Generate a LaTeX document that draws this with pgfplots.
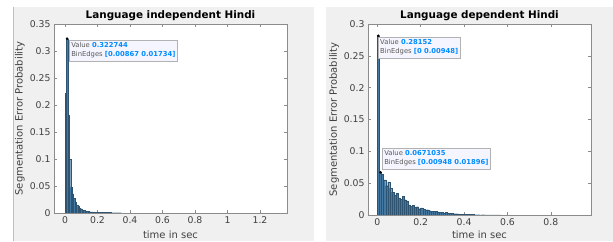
\documentclass[border=0pt]{standalone}
\usepackage{fontspec}
\setmainfont{DejaVu Sans}
\usepackage{pgfplots}
\pgfplotsset{compat=1.18}
\definecolor{panelgray}{HTML}{F0F0F0}
\definecolor{barblue}{RGB}{66,120,162}
\definecolor{tipblue}{RGB}{0,140,255}
\definecolor{tipgray}{RGB}{90,90,90}
\definecolor{axgray}{RGB}{140,140,140}
\pgfplotsset{
  mhist/.style={
    scale only axis,
    anchor=south west,
    axis background/.style={fill=white},
    axis line style={axgray, line width=0.6pt},
    tick style={axgray, line width=0.5pt},
    major tick length=3pt,
    tick align=inside,
    ymin=0,
    scaled y ticks=false, scaled x ticks=false,
    /pgf/number format/assume math mode=true,
    tick label style={font=\fontsize{9.3}{10}\selectfont, text=black!75},
    label style={font=\fontsize{10}{11}\selectfont, text=black!75},
    title style={font=\fontsize{10.4}{11}\selectfont\bfseries, text=black,
      at={(axis description cs:0.5,1)}, anchor=base, yshift=-1pt},
    clip=true,
  },
}
\tikzset{
  tip/.style={draw=gray!60, fill=white!96!blue, line width=0.5pt, inner xsep=2pt, inner ysep=2.5pt,
    anchor=north west, align=left, font=\fontsize{6.8}{9}\selectfont, text=tipgray},
}
\newcommand{\tv}[1]{\textcolor{tipblue}{\bfseries #1}}
\begin{document}
\begin{tikzpicture}
\useasboundingbox (0pt,0pt) rectangle (613pt,241pt);
\fill[white] (0pt,0pt) rectangle (613pt,241pt);
\fill[panelgray] (14pt,0pt) rectangle (314pt,234pt);
\draw[gray!50, line width=0.8pt] (13.5pt,0pt) -- (13.5pt,234pt);
\fill[panelgray] (326pt,0pt) rectangle (613pt,234pt);

% Left panel
\begin{axis}[mhist,
  at={(54pt,28pt)}, width=233pt, height=189pt,
  xmin=-0.0677, xmax=1.366, ymax=0.35,
  xtick={0,0.2,0.4,0.6,0.8,1,1.2},
  xticklabels={0,0.2,0.4,0.6,0.8,1,1.2},
  ytick={0,0.05,0.1,0.15,0.2,0.25,0.3,0.35},
  yticklabels={0,0.05,0.1,0.15,0.2,0.25,0.3,0.35},
  title={Language independent Hindi},
  xlabel={time in sec},
  xlabel style={at={(axis description cs:0.5,-0.1164)}, anchor=center},
  ylabel={Segmentation Error Probability},
  ylabel style={at={(axis description cs:-0.146,0.5)}, anchor=center},
]
\addplot[ybar interval, fill=barblue, draw=barblue!70!black, line width=0.08pt] coordinates {
(0,0.222) (0.00867,0.322744) (0.01734,0.182) (0.02601,0.099) (0.03468,0.048)
(0.04335,0.036) (0.05202,0.027) (0.06069,0.020) (0.06936,0.015) (0.07803,0.012)
(0.0867,0.009) (0.09537,0.008) (0.10404,0.006) (0.11271,0.005) (0.12138,0.004)
(0.13005,0.0035) (0.13872,0.003) (0.14739,0.0025) (0.15606,0.002) (0.16473,0.002)
(0.1734,0.0016) (0.18207,0.0015) (0.19074,0.0014) (0.19941,0.0013) (0.20808,0.0012)
(0.21675,0.0013) (0.22542,0.0011) (0.23409,0.001) (0.24276,0.0011) (0.25143,0.0009)
(0.2601,0.001) (0.26877,0.0008) (0.27744,0.0009) (0.28611,0.0007) (0.29478,0.0008)
(0.30345,0.0006) (0.31212,0.0007) (0.32079,0.0005) (0.32946,0.0006) (0.33813,0.0005)
(0.3468,0)
};
\addplot[only marks, mark=*, mark size=1.1pt, black] coordinates {(0.013,0.322744)};
\node[tip] at (axis cs:0.0246,0.3204) {Value \tv{0.322744}\\BinEdges \tv{[0.00867 0.01734]}};
\end{axis}

% Right panel
\begin{axis}[mhist,
  at={(368pt,26pt)}, width=223pt, height=191pt,
  xmin=-0.043, xmax=0.985, ymax=0.3,
  xtick={0,0.2,0.4,0.6,0.8},
  xticklabels={0,0.2,0.4,0.6,0.8},
  ytick={0,0.05,0.1,0.15,0.2,0.25,0.3},
  yticklabels={0,0.05,0.1,0.15,0.2,0.25,0.3},
  title={Language dependent Hindi},
  xlabel={time in sec},
  xlabel style={at={(axis description cs:0.5,-0.103)}, anchor=center},
  ylabel={Segmentation Error Probability},
  ylabel style={at={(axis description cs:-0.152,0.5)}, anchor=center},
]
\addplot[ybar interval, fill=barblue, draw=barblue!70!black, line width=0.08pt] coordinates {
(0,0.28152) (0.00948,0.0671035) (0.01896,0.064) (0.02844,0.055) (0.03792,0.046)
(0.0474,0.052) (0.05688,0.042) (0.06636,0.036) (0.07584,0.031) (0.08532,0.034)
(0.0948,0.027) (0.10428,0.025) (0.11376,0.029) (0.12324,0.024) (0.13272,0.022)
(0.1422,0.016) (0.15168,0.014) (0.16116,0.015) (0.17064,0.012) (0.18012,0.013)
(0.1896,0.010) (0.19908,0.011) (0.20856,0.009) (0.21804,0.008) (0.22752,0.0085)
(0.237,0.007) (0.24648,0.006) (0.25596,0.006) (0.26544,0.0055) (0.27492,0.005)
(0.2844,0.0045) (0.29388,0.004) (0.30336,0.0035) (0.31284,0.004) (0.32232,0.003)
(0.3318,0.003) (0.34128,0.0025) (0.35076,0.002) (0.36024,0.002) (0.36972,0.0018)
(0.3792,0.0015) (0.38868,0.0015) (0.39816,0.0012) (0.40764,0.001) (0.41712,0.001)
(0.4266,0.0008) (0.43608,0.0008) (0.44556,0.0006) (0.45504,0.0005) (0.46452,0.0005)
(0.474,0.0003) (0.48348,0.0004) (0.49296,0) (0.50244,0.0003) (0.51192,0)
(0.5214,0.0003) (0.53088,0) (0.54036,0.0002) (0.54984,0.0003) (0.55932,0.0002)
(0.5688,0)
};
\addplot[only marks, mark=*, mark size=1.1pt, black] coordinates {(0.00474,0.28152) (0.01422,0.0671035)};
\node[tip] at (axis cs:0.003,0.2796) {Value \tv{0.28152}\\BinEdges \tv{[0 0.00948]}};
\node[tip] at (axis cs:0.0217,0.1052) {Value \tv{0.0671035}\\BinEdges \tv{[0.00948 0.01896]}};
\end{axis}
\end{tikzpicture}
\end{document}
